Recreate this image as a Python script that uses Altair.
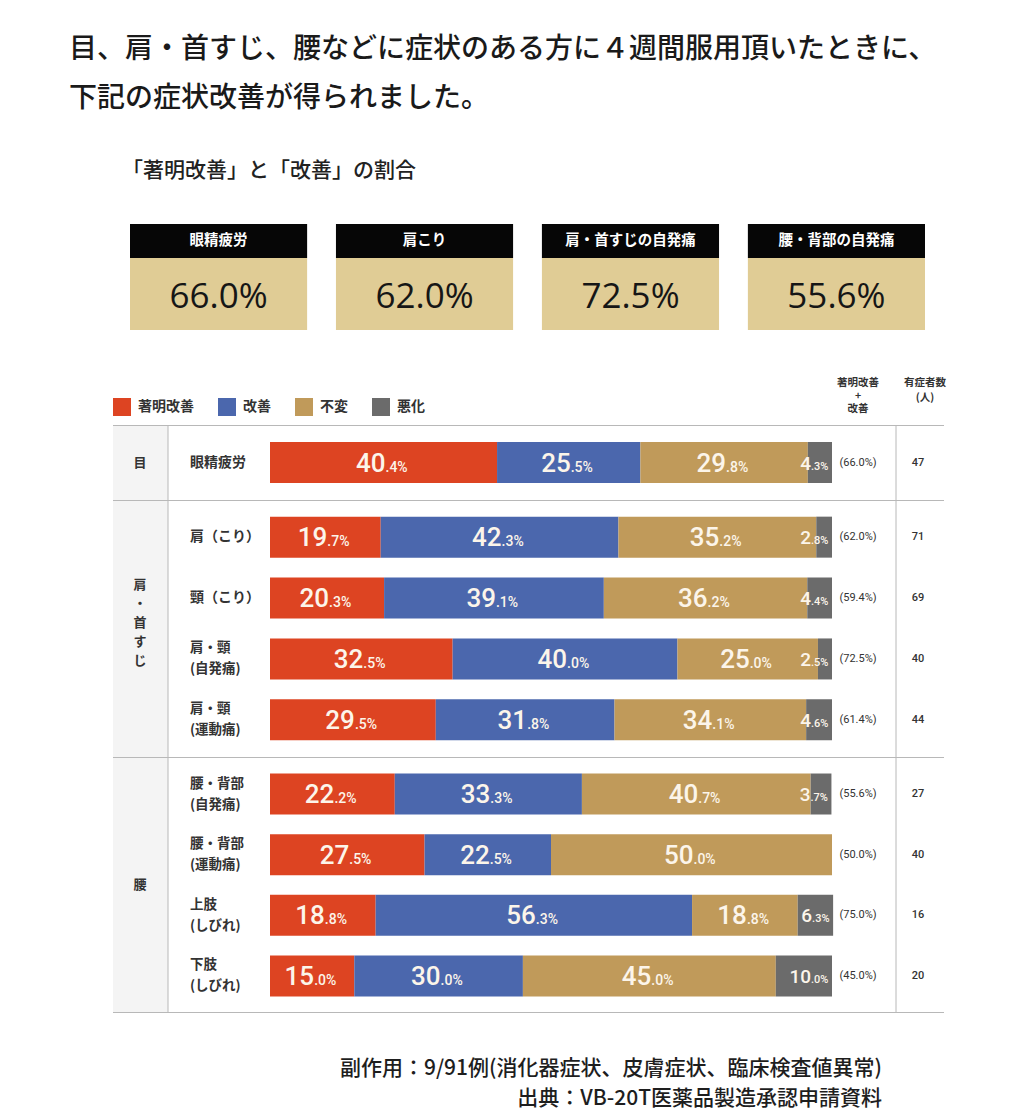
import altair as alt
import pandas as pd

# ---------------- data ----------------
heading_lines = ["目、肩・首すじ、腰などに症状のある方に４週間服用頂いたときに、",
                 "下記の症状改善が得られました。"]
subtitle = "「著明改善」と「改善」の割合"
box_names = ["眼精疲労", "肩こり", "肩・首すじの自発痛", "腰・背部の自発痛"]
box_values = [66.0, 62.0, 72.5, 55.6]

categories = ["著明改善", "改善", "不変", "悪化"]
cat_colors = ["#dd4422", "#4b67ad", "#c09a5a", "#6b6b6b"]

group_order = ["目", "肩・首すじ", "腰"]
rows = ["眼精疲労", "肩（こり）", "頸（こり）", "肩・頸\n(自発痛)", "肩・頸\n(運動痛)",
        "腰・背部\n(自発痛)", "腰・背部\n(運動痛)", "上肢\n(しびれ)", "下肢\n(しびれ)"]
groups = ["目", "肩・首すじ", "肩・首すじ", "肩・首すじ", "肩・首すじ", "腰", "腰", "腰", "腰"]
marked = [40.4, 19.7, 20.3, 32.5, 29.5, 22.2, 27.5, 18.8, 15.0]
improved = [25.5, 42.3, 39.1, 40.0, 31.8, 33.3, 22.5, 56.3, 30.0]
unchanged = [29.8, 35.2, 36.2, 25.0, 34.1, 40.7, 50.0, 18.8, 45.0]
worse = [4.3, 2.8, 4.4, 2.5, 4.6, 3.7, 0.0, 6.3, 10.0]
combined = [66.0, 62.0, 59.4, 72.5, 61.4, 55.6, 50.0, 75.0, 45.0]
counts = [47, 71, 69, 40, 44, 27, 40, 16, 20]

col_header_1 = "著明改善\n+\n改善"
col_header_2 = "有症者数\n(人)"
footer_lines = ["副作用：9/91例(消化器症状、皮膚症状、臨床検査値異常)",
                "出典：VB-20T医薬品製造承認申請資料"]

# ---------------- tables ----------------
records = []
for i, r in enumerate(rows):
    for ci, vals in enumerate([marked, improved, unchanged, worse]):
        records.append({"row": r, "group": groups[i], "cat": categories[ci], "ci": ci, "v": vals[i]})
seg_df = pd.DataFrame(records)
row_df = pd.DataFrame({"row": rows, "group": groups, "comb": combined, "n": counts})
one = pd.DataFrame({"k": [0]})

JP = "Noto Sans CJK JP"
NUM = "Roboto"
W = 1000
LINE = "#b8b8b8"
xscale = alt.Scale(domain=[0, 100], range=[262, 824])

# ---------------- top panel ----------------
TOP_H = 417
head = alt.Chart(pd.DataFrame({"t": ["\n".join(heading_lines)]})).mark_text(
    align="left", baseline="middle", font=JP, fontSize=28, fontWeight=500,
    color="#1a1a1a", lineBreak="\n", lineHeight=49
).encode(x=alt.value(61), y=alt.value(41.5), text="t:N")

sub = alt.Chart(pd.DataFrame({"t": [subtitle]})).mark_text(
    align="left", baseline="middle", font=JP, fontSize=21, fontWeight=500, color="#222"
).encode(x=alt.value(114), y=alt.value(163), text="t:N")

box_df = pd.DataFrame({"name": box_names, "val": box_values})
BX = alt.X("name:N", sort=box_names,
           scale=alt.Scale(domain=box_names, range=[122, 917], paddingInner=0.14, paddingOuter=0),
           axis=None)
box_head = alt.Chart(box_df).mark_rect(color="#060606").encode(
    x=BX, y=alt.value(216), y2=alt.value(250))
box_body = alt.Chart(box_df).mark_rect(color="#e0cc95").encode(
    x=BX, y=alt.value(250), y2=alt.value(322))
box_title = alt.Chart(box_df).mark_text(
    font=JP, fontSize=14.5, fontWeight="bold", color="white", baseline="middle"
).encode(x=BX, y=alt.value(233), text="name:N")
box_val = alt.Chart(box_df).transform_calculate(
    t="format(datum.val, '.1f') + '%'"
).mark_text(font="Open Sans", fontSize=35, color="#161616", baseline="middle").encode(
    x=BX, y=alt.value(289), text="t:N")

ch1 = alt.Chart(pd.DataFrame({"t": [col_header_1]})).mark_text(
    font=JP, fontSize=10.5, fontWeight="bold", color="#333", lineBreak="\n",
    lineHeight=13, baseline="middle"
).encode(x=alt.value(850), y=alt.value(375), text="t:N")
ch2 = alt.Chart(pd.DataFrame({"t": [col_header_2]})).mark_text(
    font=JP, fontSize=10.5, fontWeight="bold", color="#333", lineBreak="\n",
    lineHeight=15, baseline="middle"
).encode(x=alt.value(917), y=alt.value(375), text="t:N")

top = alt.layer(head, sub, box_head, box_body, box_title, box_val, ch1, ch2).properties(
    width=W, height=TOP_H)


# ---------------- group panels ----------------
def group_panel(g, H, last=False):
    sub_rows = [r for r, gg in zip(rows, groups) if gg == g]
    Y = alt.Y("row:N", scale=alt.Scale(domain=sub_rows, paddingOuter=0.11, paddingInner=0),
              axis=None)
    bg = alt.Chart(one).mark_rect(color="#f4f4f4").encode(
        x=alt.value(105), x2=alt.value(160), y=alt.value(0), y2=alt.value(H))
    top_rule = alt.Chart(one).mark_rule(color=LINE, strokeWidth=1).encode(
        x=alt.value(105), x2=alt.value(936), y=alt.value(0.5))
    v1 = alt.Chart(one).mark_rule(color=LINE, strokeWidth=1).encode(
        x=alt.value(160), y=alt.value(0), y2=alt.value(H))
    v2 = alt.Chart(one).mark_rule(color=LINE, strokeWidth=1).encode(
        x=alt.value(888), y=alt.value(0), y2=alt.value(H))
    nchar = len(g)
    glabel = alt.Chart(pd.DataFrame({"g": [g]})).transform_calculate(
        vt="join(split(datum.g, ''), '\\n')"
    ).mark_text(font=JP, fontSize=13, fontWeight="bold", color="#333", lineBreak="\n",
                lineHeight=19, baseline="middle").encode(
        x=alt.value(132), y=alt.value(H / 2 - (nchar - 1) * 19 / 2 - (6 if nchar > 1 else 0)),
        text="vt:N")

    rsub = row_df[row_df.group == g]
    rlabel1 = alt.Chart(rsub).transform_filter("indexof(datum.row, '\\n') < 0").mark_text(
        font=JP, fontSize=14, fontWeight="bold", color="#333", align="left",
        baseline="middle"
    ).encode(x=alt.value(182), y=Y, text="row:N")
    rlabel2 = alt.Chart(rsub).transform_filter("indexof(datum.row, '\\n') >= 0").mark_text(
        font=JP, fontSize=13.5, fontWeight="bold", color="#333", align="left",
        baseline="middle", lineBreak="\n", lineHeight=21, dy=-10.5
    ).encode(x=alt.value(182), y=Y, text="row:N")
    pct = alt.Chart(rsub).transform_calculate(
        t="'(' + format(datum.comb, '.1f') + '%)'"
    ).mark_text(font=NUM, fontSize=11, color="#333", baseline="middle").encode(
        x=alt.value(850), y=Y, text="t:N")
    cnt = alt.Chart(rsub).mark_text(font=NUM, fontSize=11, fontWeight=500, color="#333",
                                    baseline="middle").encode(
        x=alt.value(910), y=Y, text="n:Q")

    base = alt.Chart(seg_df[seg_df.group == g]).transform_stack(
        stack="v", groupby=["row"], as_=["x0", "x1"],
        sort=[alt.SortField(field="ci", order="ascending")])
    bars = base.mark_bar(size=41).encode(
        x=alt.X("x0:Q", scale=xscale, axis=None), x2="x1:Q", y=Y,
        color=alt.Color("cat:N", scale=alt.Scale(domain=categories, range=cat_colors),
                        legend=alt.Legend(orient="none", legendX=105, legendY=390,
                                          direction="horizontal", title="",
                                          symbolType="square", symbolSize=324,
                                          symbolStrokeWidth=0, labelFont=JP,
                                          labelFontSize=14, labelFontWeight="bold",
                                          labelColor="#333", labelOffset=7,
                                          columnPadding=24)))
    lab = base.transform_filter("datum.v > 0").transform_calculate(
        mid="(datum.x0 + datum.x1) / 2",
        lab="format(datum.v, '.1f')",
        ip="split(datum.lab, '.')[0]",
        dp="'.' + split(datum.lab, '.')[1] + '%'")
    LC = "#fcf5ea"
    big_i = lab.transform_filter("datum.ci < 3").mark_text(
        align="right", baseline="alphabetic", dx=2, dy=9, font=NUM, fontSize=26,
        fontWeight=500, color=LC).encode(
        x=alt.X("mid:Q", scale=xscale, axis=None), y=Y, text="ip:N")
    big_d = lab.transform_filter("datum.ci < 3").mark_text(
        align="left", baseline="alphabetic", dx=2, dy=9, font=NUM, fontSize=14,
        fontWeight=500, color=LC).encode(
        x=alt.X("mid:Q", scale=xscale, axis=None), y=Y, text="dp:N")
    sm_i = lab.transform_filter("datum.ci == 3").mark_text(
        align="right", baseline="alphabetic", dx=-21, dy=7, font=NUM, fontSize=19,
        fontWeight=500, color=LC).encode(
        x=alt.X("x1:Q", scale=xscale, axis=None), y=Y, text="ip:N")
    sm_d = lab.transform_filter("datum.ci == 3").mark_text(
        align="left", baseline="alphabetic", dx=-21, dy=7, font=NUM, fontSize=11,
        fontWeight=500, color=LC).encode(
        x=alt.X("x1:Q", scale=xscale, axis=None), y=Y, text="dp:N")

    layers = [bg, top_rule, v1, v2, glabel, rlabel1, rlabel2, bars, big_i, big_d,
              sm_i, sm_d, pct, cnt]
    if last:
        layers.append(alt.Chart(one).mark_rule(color=LINE, strokeWidth=1).encode(
            x=alt.value(105), x2=alt.value(936), y=alt.value(H - 0.5)))
    return alt.layer(*layers).properties(width=W, height=H)


g1 = group_panel("目", 75)
g2 = group_panel("肩・首すじ", 257)
g3 = group_panel("腰", 256, last=True)

foot = alt.Chart(pd.DataFrame({"t": ["\n".join(footer_lines)]})).mark_text(
    align="right", baseline="middle", font=JP, fontSize=21, fontWeight=500,
    color="#1e1e1e", lineBreak="\n", lineHeight=30
).encode(x=alt.value(874), y=alt.value(56), text="t:N").properties(width=W, height=98)

chart = alt.vconcat(top, g1, g2, g3, foot, spacing=0, bounds="flush").resolve_scale(
    x="independent", y="independent"
).properties(padding=0).configure_view(strokeWidth=0)

chart.save("out.html", embed_options={"renderer": "svg", "actions": False})
